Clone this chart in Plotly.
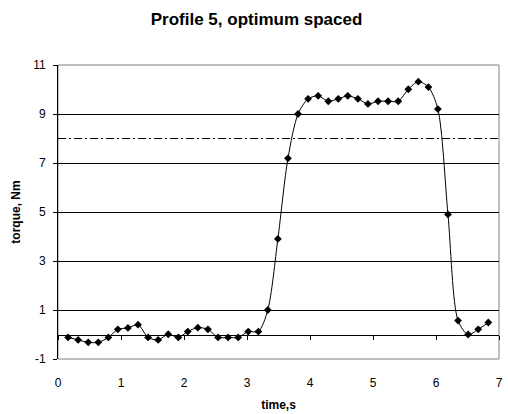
import plotly.graph_objects as go

time_s = [0.16, 0.32, 0.48, 0.64, 0.80, 0.95, 1.11, 1.27, 1.43, 1.59, 1.75,
          1.91, 2.06, 2.22, 2.38, 2.54, 2.70, 2.86, 3.02, 3.18, 3.33, 3.49,
          3.65, 3.81, 3.97, 4.13, 4.29, 4.45, 4.60, 4.76, 4.92, 5.08, 5.24,
          5.40, 5.56, 5.72, 5.88, 6.03, 6.19, 6.35, 6.51, 6.67, 6.83]
torque_nm = [-0.12, -0.22, -0.32, -0.32, -0.12, 0.21, 0.27, 0.40, -0.12, -0.22, 0.01,
             -0.12, 0.12, 0.28, 0.21, -0.12, -0.12, -0.12, 0.12, 0.12, 1.00, 3.90,
             7.19, 9.00, 9.62, 9.74, 9.52, 9.62, 9.74, 9.62, 9.41, 9.52, 9.52,
             9.52, 10.01, 10.32, 10.10, 9.20, 4.90, 0.57, 0.00, 0.21, 0.49]
threshold = 8
x_ticks = [0, 1, 2, 3, 4, 5, 6, 7]
y_ticks = [-1, 1, 3, 5, 7, 9, 11]
y_tick_text = ["-1", "1", "3", "5", "7", "9", "11"]

font = "Liberation Sans, Arial, sans-serif"

fig = go.Figure()
fig.add_trace(go.Scatter(
    x=time_s, y=torque_nm, mode="lines+markers",
    line=dict(color="black", width=1, shape="spline", smoothing=0.8),
    marker=dict(symbol="diamond", size=6, color="black"),
    showlegend=False, hoverinfo="x+y",
))
# dummy trace so the overlay axis at y=0 is drawn
fig.add_trace(go.Scatter(x=[None], y=[None], xaxis="x2", yaxis="y",
                         showlegend=False, hoverinfo="skip"))

fig.add_shape(type="line", xref="paper", x0=0, x1=1, yref="y",
              y0=threshold, y1=threshold,
              line=dict(color="black", width=1, dash="8px,3px,2px,3px"))
fig.add_shape(type="rect", xref="paper", yref="paper", x0=0, x1=1, y0=0, y1=1,
              line=dict(color="#808080", width=1), layer="below")

fig.update_layout(
    width=508, height=414,
    margin=dict(l=58, r=5, t=65, b=50),
    paper_bgcolor="white", plot_bgcolor="white",
    font=dict(family=font, size=12, color="black"),
    title=dict(text="<b>Profile 5, optimum spaced</b>", x=0.505, xanchor="center",
               y=0.953, yanchor="middle", font=dict(size=17, family=font)),
    xaxis=dict(range=[0, 7], tickvals=x_ticks, showgrid=False, zeroline=False,
               showline=False, ticks="", tickfont=dict(size=12),
               ticklabelstandoff=15,
               title=dict(text="<b>time,s</b>", font=dict(size=12), standoff=11)),
    xaxis2=dict(range=[0, 7], overlaying="x", anchor="free", position=1/12,
                tickvals=x_ticks, showticklabels=False, ticks="outside",
                ticklen=4, tickcolor="black", showline=True, linecolor="black",
                linewidth=1, showgrid=False, zeroline=False),
    yaxis=dict(range=[-1, 11], tickvals=y_ticks, ticktext=y_tick_text,
               showgrid=True, gridcolor="black", gridwidth=1, zeroline=False,
               showline=True, linecolor="black", linewidth=1,
               ticks="outside", ticklen=4, tickcolor="black",
               tickfont=dict(size=12), ticklabelstandoff=5,
               title=dict(text="<b>torque, Nm</b>", font=dict(size=12), standoff=9)),
)

fig.write_html("out.html")
